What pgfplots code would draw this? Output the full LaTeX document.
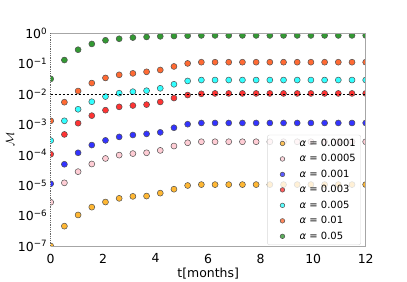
\documentclass[border=0pt]{standalone}
\usepackage{fontspec}
\setmainfont{DejaVu Sans}
\usepackage{pgfplots}
\usepackage{pgfplotstable}
\pgfplotsset{compat=1.18}
\definecolor{cor}{RGB}{255,183,51}
\definecolor{cpink}{RGB}{255,205,213}
\definecolor{cblue}{RGB}{51,51,255}
\definecolor{cred}{RGB}{255,51,51}
\definecolor{ccyan}{RGB}{51,255,255}
\definecolor{corr}{RGB}{255,106,51}
\definecolor{cgreen}{RGB}{51,153,51}
\definecolor{edge}{RGB}{80,80,80}
\pgfplotstableread{
x a b c d e f g
0.0000 1.0e-7 2.75e-6 1.12e-5 1.05e-4 2.95e-4 1.32e-3 0.0316
0.5217 4.5e-7 1.2e-5 4.9e-5 4.7e-4 1.32e-3 5.4e-3 0.132
1.0435 1.05e-6 2.8e-5 1.17e-4 1.1e-3 3.16e-3 1.26e-2 0.288
1.5652 1.9e-6 5.0e-5 2.1e-4 1.95e-3 5.6e-3 2.3e-2 0.447
2.0870 2.8e-6 7.6e-5 3.0e-4 2.95e-3 8.3e-3 3.4e-2 0.589
2.6087 3.7e-6 9.8e-5 3.9e-4 3.8e-3 1.07e-2 4.3e-2 0.661
3.1304 4.3e-6 1.1e-4 4.5e-4 4.2e-3 1.2e-2 4.8e-2 0.724
3.6522 4.4e-6 1.17e-4 4.9e-4 4.5e-3 1.29e-2 5.4e-2 0.759
4.1739 5.5e-6 1.4e-4 5.5e-4 5.5e-3 1.55e-2 6.2e-2 0.794
4.6957 7.4e-6 1.95e-4 7.8e-4 7.4e-3 2.1e-2 8.1e-2 0.813
5.2174 9.8e-6 2.5e-4 1.02e-3 9.3e-3 2.7e-2 0.102 0.832
5.7391 1.05e-5 2.7e-4 1.12e-3 1.02e-2 2.9e-2 0.112 0.851
6.2609 1.05e-5 2.7e-4 1.12e-3 1.05e-2 2.9e-2 0.112 0.851
6.7826 1.05e-5 2.7e-4 1.12e-3 1.05e-2 2.9e-2 0.112 0.851
7.3043 1.05e-5 2.7e-4 1.12e-3 1.05e-2 2.9e-2 0.112 0.851
7.8261 1.05e-5 2.7e-4 1.12e-3 1.05e-2 2.9e-2 0.112 0.851
8.3478 1.05e-5 2.7e-4 1.12e-3 1.05e-2 2.9e-2 0.112 0.851
8.8696 1.05e-5 2.7e-4 1.12e-3 1.05e-2 2.9e-2 0.112 0.851
9.3913 1.05e-5 2.7e-4 1.12e-3 1.05e-2 2.9e-2 0.112 0.851
9.9130 1.05e-5 2.7e-4 1.12e-3 1.05e-2 2.9e-2 0.112 0.851
10.4348 1.05e-5 2.7e-4 1.12e-3 1.05e-2 2.9e-2 0.112 0.851
10.9565 1.05e-5 2.7e-4 1.12e-3 1.05e-2 2.9e-2 0.112 0.851
11.4783 1.05e-5 2.7e-4 1.12e-3 1.05e-2 2.9e-2 0.112 0.851
12.0000 1.05e-5 2.7e-4 1.12e-3 1.05e-2 2.9e-2 0.112 0.851
}\data
\begin{document}
\begin{tikzpicture}
\useasboundingbox (-50.7bp,-36bp) rectangle (356.3bp,246bp);
\begin{axis}[at={(0,0)}, anchor=south west, scale only axis,
  width=315bp, height=212.7bp,
  ymode=log, xmin=0, xmax=12, ymin=1e-7, ymax=1,
  xtick={0,2,...,12},
  ytick={1e-7,1e-6,1e-5,1e-4,1e-3,1e-2,1e-1,1},
  yticklabels={10\textsuperscript{−7},10\textsuperscript{−6},10\textsuperscript{−5},10\textsuperscript{−4},10\textsuperscript{−3},10\textsuperscript{−2},10\textsuperscript{−1},10\textsuperscript{0}},
  yminorticks=false,
  major tick length=0pt,
  axis line style={draw=none},
  clip marker paths=true,
  tick label style={font=\fontsize{12.5}{14}\selectfont, black},
  xticklabel style={yshift=-4.3bp},
  /pgf/number format/assume math mode=true,
  xlabel={t[months]},
  xlabel style={at={(rel axis cs:0.5,0)}, anchor=center, yshift=-28bp, font=\fontsize{12.5}{14}\selectfont},
  ylabel={$\mathcal{M}$},
  ylabel style={at={(rel axis cs:-0.129,0.5)}, anchor=center, font=\fontsize{12.5}{14}\selectfont},
  every axis plot/.append style={only marks, mark=*, mark size=3bp,
    legend image code/.code={\path (0cm,0cm) (0.95cm,0cm); \draw[##1, mark size=2.3bp] plot coordinates {(0.42cm,0cm)};}},
  legend style={at={(rel axis cs:0.985,0.005)}, anchor=south east,
    draw=gray!30, rounded corners=2bp, fill=white, fill opacity=0.8, text opacity=1,
    font=\fontsize{10}{12}\selectfont, row sep=2.6bp},
  legend cell align=left,
]
\addplot[mark options={draw=edge, line width=0.5bp, fill=cor}] table[x=x,y=a]{\data};
\addlegendentry{{\itshape α} = 0.0001}
\addplot[mark options={draw=edge, line width=0.5bp, fill=cpink}] table[x=x,y=b]{\data};
\addlegendentry{{\itshape α} = 0.0005}
\addplot[mark options={draw=edge, line width=0.5bp, fill=cblue}] table[x=x,y=c]{\data};
\addlegendentry{{\itshape α} = 0.001}
\addplot[mark options={draw=edge, line width=0.5bp, fill=cred}] table[x=x,y=d]{\data};
\addlegendentry{{\itshape α} = 0.003}
\addplot[mark options={draw=edge, line width=0.5bp, fill=ccyan}] table[x=x,y=e]{\data};
\addlegendentry{{\itshape α} = 0.005}
\addplot[mark options={draw=edge, line width=0.5bp, fill=corr}] table[x=x,y=f]{\data};
\addlegendentry{{\itshape α} = 0.01}
\addplot[mark options={draw=edge, line width=0.5bp, fill=cgreen}] table[x=x,y=g]{\data};
\addlegendentry{{\itshape α} = 0.05}
\draw[black, line width=0.6bp, dash pattern=on 2.5bp off 1.5bp] (axis cs:0,1e-2) -- (axis cs:12,1e-2);
\coordinate (LL) at (rel axis cs:0,0);
\coordinate (UR) at (rel axis cs:1,1);
\end{axis}
\draw[gray!70, line width=0.8bp] (LL) -- (LL-|UR) -- (UR) -- (UR-|LL);
\draw[black!60, line width=0.8bp, densely dotted] (LL) -- (UR-|LL);
\end{tikzpicture}
\end{document}
